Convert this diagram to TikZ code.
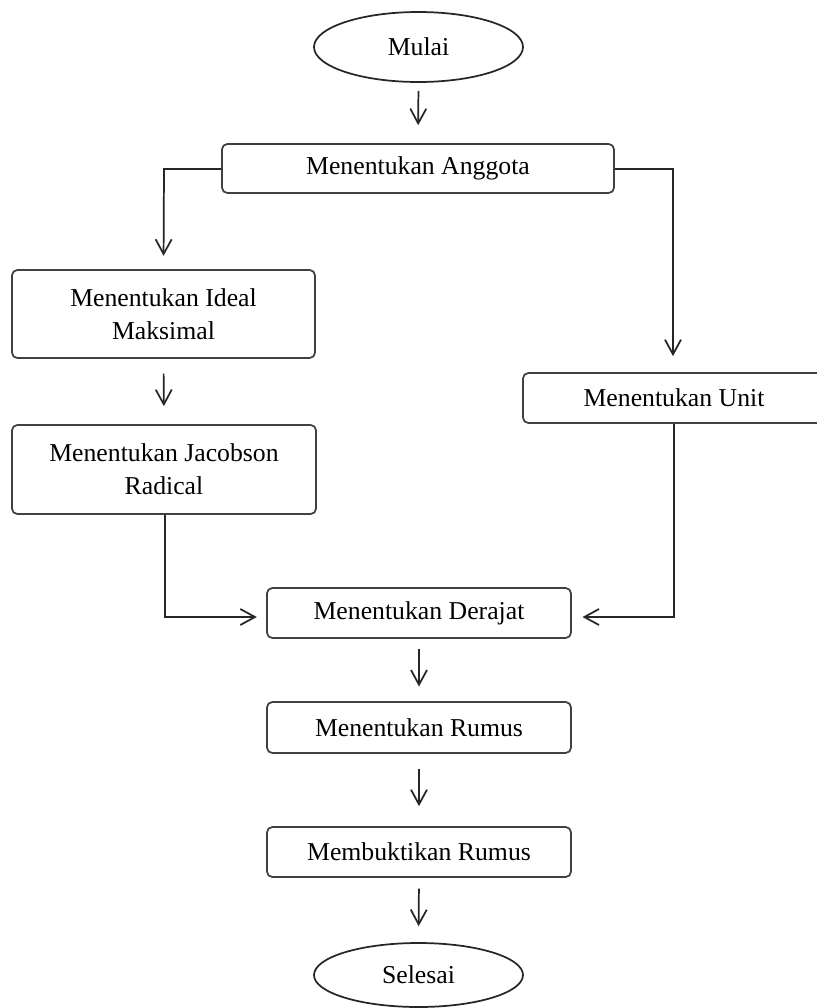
\documentclass[tikz,border=0pt]{standalone}
\usepackage{fontspec}
\setmainfont{Liberation Serif}
\usetikzlibrary{shapes.geometric,arrows.meta}
\begin{document}
\begin{tikzpicture}[x=0.75pt,y=-0.75pt,
  every node/.style={font=\fontsize{19.3}{25}\selectfont, text=black, inner sep=0pt},
  procbox/.style={draw=black!75, line width=1.3pt, rounded corners=4pt, align=center,
    minimum width=228pt, minimum height=37.5pt},
  termnode/.style={draw=black!85, line width=1.3pt, ellipse, minimum width=156.75pt, minimum height=52.5pt},
  arr/.style={draw=black!85, line width=1.3pt, -{Straight Barb[length=11pt,width=12pt,line width=1.3pt]}},
  conn/.style={draw=black!75, line width=1.3pt}
]
\clip (0,0) rectangle (817,1008);
\fill[white] (0,0) rectangle (817,1008);

\node[termnode] (mulai) at (418.5,47) {Mulai};
\node[procbox, minimum width=294pt, minimum height=36.75pt] (anggota) at (418,168.5) {Menentukan Anggota};
\node[procbox, minimum width=227.25pt, minimum height=66pt] (ideal) at (163.5,314) {Menentukan Ideal\\Maksimal};
\node[procbox, minimum height=66.75pt] (jacob) at (164,469.5) {Menentukan Jacobson\\Radical};
\node[procbox, minimum width=226.5pt] (unit) at (674,398) {Menentukan Unit};
\node[procbox] (derajat) at (419,613) {Menentukan Derajat};
\node[procbox, minimum height=38.25pt] (rumus) at (419,727.5) {Menentukan Rumus};
\node[procbox] (bukti) at (419,852) {Membuktikan Rumus};
\node[termnode, minimum height=48pt] (selesai) at (418.5,975) {Selesai};

\coordinate (lk) at (164,169);
\coordinate (rk) at (673,169);
\coordinate (jb) at (165,617);
\coordinate (ub) at (674,617);

\draw[arr, shorten <=6pt, shorten >=13.5pt] (mulai.south) -- (anggota.north);
\draw[arr, shorten >=10pt] (anggota.west |- lk) -- (lk) -- (ideal.north);
\draw[arr, shorten >=12pt] (anggota.east |- rk) -- (rk) -- (unit.north -| rk);
\draw[arr, shorten <=11pt, shorten >=13.5pt] (ideal.south) -- (jacob.north);
\draw[arr, shorten >=7pt] (jacob.south -| jb) -- (jb) -- (derajat.west |- jb);
\draw[arr, shorten >=8pt] (unit.south -| ub) -- (ub) -- (derajat.east |- ub);
\draw[arr, shorten <=7.5pt, shorten >=11pt] (derajat.south) -- (rumus.north);
\draw[arr, shorten <=11pt, shorten >=15pt] (rumus.south) -- (bukti.north);
\draw[arr, shorten <=8pt, shorten >=12pt] (bukti.south) -- (selesai.north);
\end{tikzpicture}
\end{document}
